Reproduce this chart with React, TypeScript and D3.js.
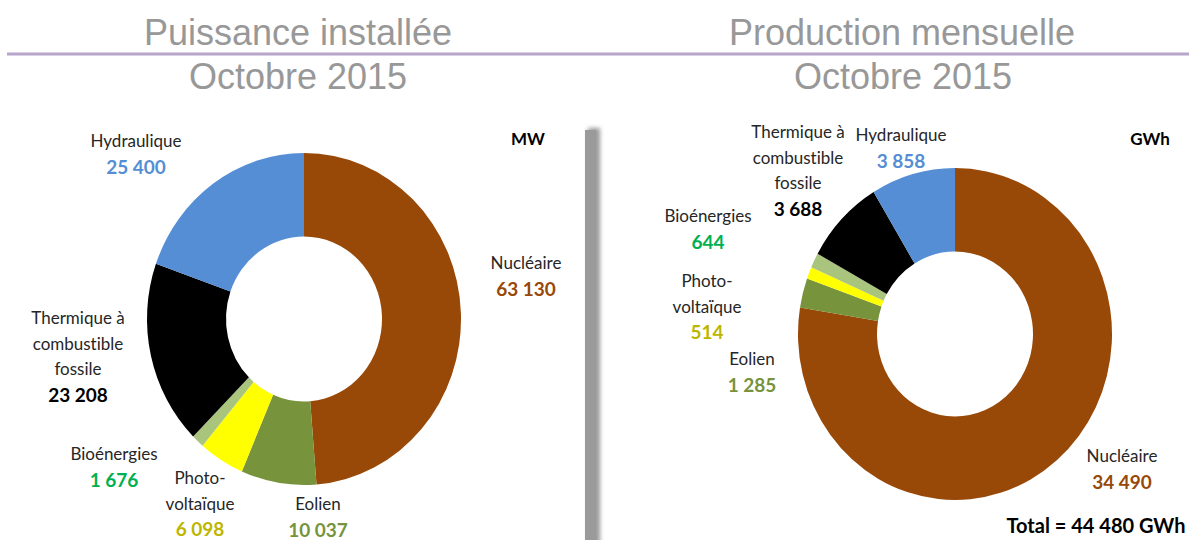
import React from "react";
import * as d3 from "d3";

// ---- Data ----
const categories = ["Nucléaire", "Eolien", "Photovoltaïque", "Bioénergies", "Thermique", "Hydraulique"];
const installedMW = [63130, 10037, 6098, 1676, 23208, 25400];
const productionGWh = [34490, 1285, 514, 644, 3688, 3858];
const titlesLeft = ["Puissance installée", "Octobre 2015"];
const titlesRight = ["Production mensuelle", "Octobre 2015"];
const unitLeft = "MW";
const unitRight = "GWh";
const totalLabel = "Total = 44 480 GWh";

// label names (multi-line) per category
const labelLines: Record<string, string[]> = {
  "Nucléaire": ["Nucléaire"],
  "Eolien": ["Eolien"],
  "Photovoltaïque": ["Photo-", "voltaïque"],
  "Bioénergies": ["Bioénergies"],
  "Thermique": ["Thermique à", "combustible", "fossile"],
  "Hydraulique": ["Hydraulique"],
};

// ---- Styles ----
const segColors = ["#984807", "#77933C", "#FFFF00", "#A9C47C", "#000000", "#558ED5"];
const valueColors = ["#984807", "#77933C", "#BDB600", "#00B050", "#000000", "#558ED5"];

// label anchor: x center, first-line baseline, per category (layout only)
const leftLabelPos: [number, number][] = [
  [526, 269], [318, 510], [200, 484], [114, 460], [78, 324], [136, 147],
];
const rightLabelPos: [number, number][] = [
  [1122, 462], [752, 365], [707, 287], [708, 222], [798, 138], [901, 141],
];

const fmt = d3.formatLocale({ decimal: ",", thousands: " ", grouping: [3], currency: ["", ""] }).format(",d");

const LINE = 25.5;
const noLig = { fontVariantLigatures: "none" as const };

function Donut({ values, cx, cy, labelPos }: { values: number[]; cx: number; cy: number; labelPos: [number, number][] }) {
  const pie = d3.pie<number>().sort(null).value((d) => d);
  const arcs = pie(values);
  const arc = d3.arc<d3.PieArcDatum<number>>().innerRadius(78).outerRadius(157);
  return (
    <g>
      <g transform={`translate(${cx},${cy}) scale(1,1.057)`}>
        {arcs.map((a, i) => (
          <path key={i} d={arc(a) || ""} fill={segColors[i]} />
        ))}
      </g>
      {categories.map((c, i) => {
        const lines = labelLines[c];
        const [x, y] = labelPos[i];
        return (
          <g key={c}>
            {lines.map((l, j) => (
              <text key={j} x={x} y={y + j * LINE} textAnchor="middle" fontFamily="Lato" fontSize={17} fill="#262626" style={noLig}>
                {l}
              </text>
            ))}
            <text x={x} y={y + lines.length * LINE + 1} textAnchor="middle" fontFamily="Lato" fontWeight="bold" fontSize={19} fill={valueColors[i]}>
              {fmt(values[i])}
            </text>
          </g>
        );
      })}
    </g>
  );
}

export default function App() {
  const titleStyle = { fontFamily: "Liberation Sans, Arial", fontSize: 36, fill: "#989898" };
  return (
    <svg width={1189} height={540} style={{ position: "absolute", left: 0, top: 0, background: "#fff" }}>
      <defs>
        <filter id="blur" x="-50%" y="-10%" width="200%" height="120%">
          <feGaussianBlur stdDeviation="2.2" />
        </filter>
      </defs>
      <rect width={1189} height={540} fill="#fff" />
      {/* titles */}
      <text x={298} y={45} textAnchor="middle" {...titleStyle}>{titlesLeft[0]}</text>
      <text x={298} y={89} textAnchor="middle" {...titleStyle}>{titlesLeft[1]}</text>
      <text x={902} y={45} textAnchor="middle" {...titleStyle}>{titlesRight[0]}</text>
      <text x={903} y={89} textAnchor="middle" {...titleStyle}>{titlesRight[1]}</text>
      <line x1={7} x2={1189} y1={54} y2={54} stroke="#B7A5CB" strokeWidth={3} />
      {/* divider */}
      <rect x={588} y={128} width={12} height={420} fill="#9a9a9a" filter="url(#blur)" />
      <rect x={585} y={130} width={11} height={420} fill="#9a9a9a" />
      {/* units */}
      <text x={528} y={145} textAnchor="middle" fontFamily="Lato" fontWeight="bold" fontSize={17} fill="#000">{unitLeft}</text>
      <text x={1150} y={145} textAnchor="middle" fontFamily="Lato" fontWeight="bold" fontSize={17} fill="#000">{unitRight}</text>
      <Donut values={installedMW} cx={304} cy={319} labelPos={leftLabelPos} />
      <Donut values={productionGWh} cx={955} cy={334} labelPos={rightLabelPos} />
      <text x={1096} y={533} textAnchor="middle" fontFamily="Lato" fontWeight="bold" fontSize={20} fill="#000">{totalLabel}</text>
    </svg>
  );
}
